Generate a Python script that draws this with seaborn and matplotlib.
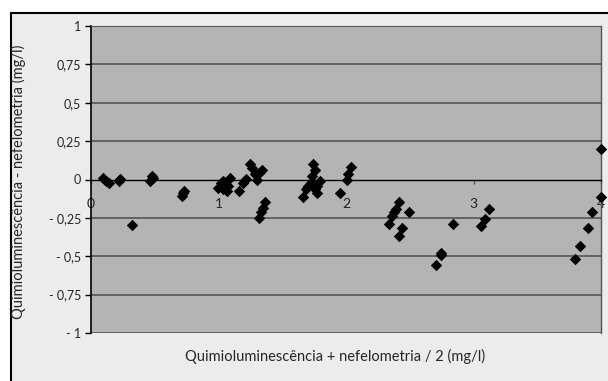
import pandas as pd
import matplotlib
matplotlib.use('Agg')
import matplotlib.pyplot as plt
import seaborn as sns
from matplotlib.patches import Rectangle

media = [0.096, 0.118, 0.144, 0.227, 0.222, 0.324, 0.463, 0.476, 0.486, 0.729, 0.711, 0.720,
         0.998, 1.020, 1.038, 1.051, 1.064, 1.090, 1.077, 1.038, 1.161, 1.195, 1.213, 1.247,
         1.265, 1.286, 1.300, 1.339, 1.318, 1.365, 1.351, 1.333, 1.318,
         1.744, 1.757, 1.731, 1.723, 1.704, 1.686, 1.665, 1.757, 1.770, 1.796, 1.775,
         1.953, 2.005, 2.018, 2.037,
         2.418, 2.392, 2.376, 2.358, 2.340, 2.496, 2.437, 2.418,
         2.745, 2.745, 2.706, 2.842, 3.061, 3.090, 3.119,
         3.998, 4.000, 3.932, 3.900, 3.835, 3.796]
diferenca = [0.007, -0.007, -0.021, 0.005, -0.013, -0.298, -0.007, 0.021, 0.013, -0.076, -0.109, -0.090,
             -0.054, -0.021, -0.011, -0.044, -0.076, 0.011, -0.044, -0.065, -0.076, -0.021, 0.005, 0.104,
             0.076, 0.033, -0.005, 0.065, 0.044, -0.148, -0.184, -0.213, -0.250,
             0.098, 0.065, 0.021, -0.021, -0.044, -0.065, -0.113, -0.065, -0.087, -0.011, -0.044,
             -0.087, 0.000, 0.033, 0.083,
             -0.148, -0.191, -0.213, -0.235, -0.287, -0.213, -0.315, -0.369,
             -0.478, -0.495, -0.554, -0.289, -0.306, -0.256, -0.193,
             0.200, -0.115, -0.210, -0.315, -0.435, -0.515]

y_ticks = [1, 0.75, 0.5, 0.25, 0, -0.25, -0.5, -0.75, -1]
y_labels = ['1', '0,75', '0,5', '0,25', '0', '- 0,25', '- 0,5', '- 0,75', '- 1']
x_ticks = [0, 1, 2, 3, 4]
x_labels = ['0', '1', '2', '3', '4']

df = pd.DataFrame({'media': media, 'diferenca': diferenca})

sns.set_style('white')
plt.rcParams['font.family'] = ['Lato', 'DejaVu Sans']

fig = plt.figure(figsize=(6.08, 3.81), dpi=100, facecolor='white')
# moldura do gráfico (estilo Excel)
fig.patches.append(Rectangle((10.5 / 608, -0.1), 1.2, (381 - 12.5) / 381 + 0.1,
                             transform=fig.transFigure, facecolor='#ececec',
                             edgecolor='black', linewidth=1.5, zorder=-5))

ax = fig.add_axes([91 / 608, 1 - 333 / 381, 510 / 608, 307 / 381])
ax.set_zorder(2)
ax.set_facecolor('#b4b4b4')

sns.scatterplot(data=df, x='media', y='diferenca', marker='D', color='black',
                s=34, edgecolor='black', linewidth=0, ax=ax, zorder=3, clip_on=False)

ax.set_xlim(0, 4)
ax.set_ylim(-1, 1)
ax.set_yticks(y_ticks)
ax.set_yticklabels(y_labels, fontsize=9)
ax.set_xticks(x_ticks)
ax.set_xticklabels(x_labels, fontsize=9)
# o rótulo "4" fica um pouco à esquerda, como no original
ax.get_xticklabels()[-1].set_ha('right')
ax.get_xticklabels()[0].set_ha('left')

for yv in y_ticks:
    if yv != 0:
        ax.axhline(yv, color='#555555', linewidth=1.2, zorder=1)

ax.spines['bottom'].set_position(('data', 0))
ax.spines['bottom'].set_color('black')
ax.spines['bottom'].set_linewidth(1)
ax.spines['left'].set_color('black')
ax.spines['left'].set_linewidth(1.2)
ax.spines['top'].set_color('#555555')
ax.spines['right'].set_color('#555555')
ax.spines['right'].set_linewidth(1)

ax.tick_params(axis='y', direction='out', length=4, width=1, color='black', pad=3, left=True)
ax.tick_params(axis='x', direction='out', length=3, width=1, color='#555555', pad=10, bottom=True)

ax.set_xlabel('')
ax.set_ylabel('')
fig.text(335 / 608, 1 - 356 / 381, 'Quimioluminescência + nefelometria / 2 (mg/l)',
         ha='center', va='center', fontsize=10.5)
fig.text(18 / 608, 1 - 182 / 381, 'Quimioluminescência - nefelometria (mg/l)',
         ha='center', va='center', rotation=90, fontsize=10.5)

plt.savefig('out.png', dpi=100, facecolor=fig.get_facecolor())
